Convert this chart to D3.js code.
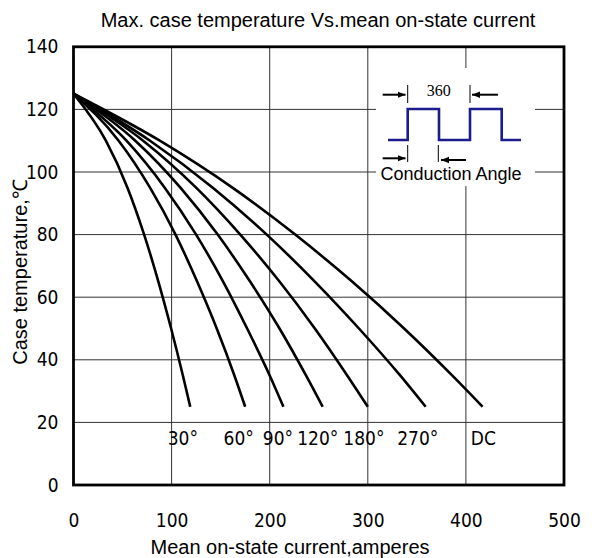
<!DOCTYPE html>
<html>
<head>
<meta charset="utf-8">
<title>Max. case temperature Vs.mean on-state current</title>
<script src="https://cdn.jsdelivr.net/npm/d3@7"></script>
<style>
    body { margin: 0; background: white; }
    text { font-family: "Liberation Sans", Arial, sans-serif; fill: black; }
    .narrow { font-family: "Liberation Sans Narrow", "DejaVu Sans Condensed", sans-serif; }
</style>
</head>
<body>
<svg id="chart" width="595" height="558"></svg>
<script>
    // curve data: current (A) read at each case temperature
    var temps = [125, 110, 95, 80, 65, 50, 35, 25]
    var angles = ["30°", "60°", "90°", "120°", "180°", "270°", "DC"]
    var cur30  = [0, 33, 55, 72, 86.5, 99.5, 111.5, 119]
    var cur60  = [0, 46, 78, 104, 126, 146, 164, 175]
    var cur90  = [0, 54, 93, 125, 152.5, 177, 200, 214]
    var cur120 = [0, 63, 109, 147, 180, 210, 237, 254]
    var cur180 = [0, 71, 125, 170, 210, 246, 279, 300]
    var cur270 = [0, 78, 142, 197, 246, 291, 333, 359]
    var curDC  = [0, 88, 162, 226, 284, 337, 386, 417]
    var labelAt = [96, 153, 193, 228, 275, 330, 405]   // x (A) of each curve label
    var xTicks = [0, 100, 200, 300, 400, 500]
    var yTicks = [0, 20, 40, 60, 80, 100, 120, 140]

    var series = [cur30, cur60, cur90, cur120, cur180, cur270, curDC]

    var svg = d3.select("#chart")
    var x = d3.scaleLinear().domain([0, 500]).range([73.5, 564])
    var y = d3.scaleLinear().domain([0, 140]).range([485, 46.8])

    // grid
    svg.append("g").selectAll("line")
        .data(xTicks.slice(1, -1))
        .enter().append("line")
        .attr("x1", d => x(d)).attr("x2", d => x(d))
        .attr("y1", y(0)).attr("y2", y(140))
        .style("stroke", "#333").style("stroke-width", 1)
    svg.append("g").selectAll("line")
        .data(yTicks.slice(1, -1))
        .enter().append("line")
        .attr("x1", x(0)).attr("x2", x(500))
        .attr("y1", d => y(d)).attr("y2", d => y(d))
        .style("stroke", "#333").style("stroke-width", 1)

    // axes labels (no tick marks in the original)
    var xAxis = d3.axisBottom(x).tickValues(xTicks).tickSize(0).tickPadding(29)
    var gx = svg.append("g").attr("transform", "translate(0," + y(0) + ")").call(xAxis)
    gx.select(".domain").remove()
    gx.selectAll("text").attr("class", "narrow").style("font-size", "19px")

    var yAxis = d3.axisLeft(y).tickValues(yTicks).tickSize(0).tickPadding(15)
    var gy = svg.append("g").attr("transform", "translate(" + x(0) + ",0)").call(yAxis)
    gy.select(".domain").remove()
    gy.selectAll("text").attr("class", "narrow").style("font-size", "19px")

    // inset background (hides grid)
    svg.append("rect")
        .attr("x", 376).attr("y", 68).attr("width", 159).attr("height", 118)
        .style("fill", "white")

    // curves
    var line = d3.line()
        .x(d => x(d[0]))
        .y(d => y(d[1]))
        .curve(d3.curveMonotoneX)

    svg.append("g").selectAll("path")
        .data(series)
        .enter().append("path")
        .attr("d", s => line(s.map((c, i) => [c, temps[i]])))
        .style("fill", "none")
        .style("stroke", "black")
        .style("stroke-width", 2.6)

    svg.append("g").selectAll("text")
        .data(angles)
        .enter().append("text")
        .attr("class", "narrow")
        .attr("x", (d, i) => x(labelAt[i]))
        .attr("y", y(12.8))
        .style("font-size", "19px")
        .text(d => d)

    // frame
    svg.append("rect")
        .attr("x", x(0)).attr("y", y(140))
        .attr("width", x(500) - x(0)).attr("height", y(0) - y(140))
        .style("fill", "none").style("stroke", "black").style("stroke-width", 2.8)

    // inset: conduction angle waveform
    var inset = svg.append("g")
    inset.append("path")
        .attr("d", "M388,140 H407.7 V109 H439 V140 H470 V109 H501.7 V140 H521")
        .style("fill", "none").style("stroke", "#1c1c8f").style("stroke-width", 2.6)

    svg.append("defs").append("marker")
        .attr("id", "arr").attr("viewBox", "0 0 10 10")
        .attr("refX", 10).attr("refY", 5)
        .attr("markerWidth", 4).attr("markerHeight", 4)
        .attr("markerUnits", "strokeWidth")
        .attr("orient", "auto")
        .append("path").attr("d", "M0,1 L10,5 L0,9 Z").style("fill", "black")

    var ticksV = [[407.7, 85, 103], [470, 85, 103], [407.7, 145, 162], [438.3, 145, 162]]
    inset.selectAll("line.tk")
        .data(ticksV)
        .enter().append("line")
        .attr("x1", d => d[0]).attr("x2", d => d[0])
        .attr("y1", d => d[1]).attr("y2", d => d[2])
        .style("stroke", "black").style("stroke-width", 1)

    var arrows = [[382.7, 94.7, 405.5, 94.7], [498, 94.7, 472, 94.7],
                  [382.7, 158.3, 405.5, 158.3], [466, 160, 441, 160]]
    inset.selectAll("line.ar")
        .data(arrows)
        .enter().append("line")
        .attr("x1", d => d[0]).attr("y1", d => d[1])
        .attr("x2", d => d[2]).attr("y2", d => d[3])
        .attr("marker-end", "url(#arr)")
        .style("stroke", "black").style("stroke-width", 2)

    inset.append("text")
        .attr("x", 438.7).attr("y", 96)
        .attr("text-anchor", "middle")
        .style("font-family", "'Liberation Serif', 'Times New Roman', serif")
        .style("font-size", "16px")
        .text("360")

    inset.append("text")
        .attr("x", 451).attr("y", 180)
        .attr("text-anchor", "middle")
        .style("font-size", "18px")
        .text("Conduction Angle")

    // titles
    svg.append("text")
        .attr("x", 318).attr("y", 27)
        .attr("text-anchor", "middle")
        .style("font-size", "20px")
        .text("Max. case temperature Vs.mean on-state current")

    svg.append("text")
        .attr("x", 290).attr("y", 554)
        .attr("text-anchor", "middle")
        .style("font-size", "20px")
        .text("Mean on-state current,amperes")

    svg.append("text")
        .attr("transform", "translate(27,272) rotate(-90)")
        .attr("text-anchor", "middle")
        .style("font-size", "20px")
        .text("Case temperature,℃")
</script>
</body>
</html>
